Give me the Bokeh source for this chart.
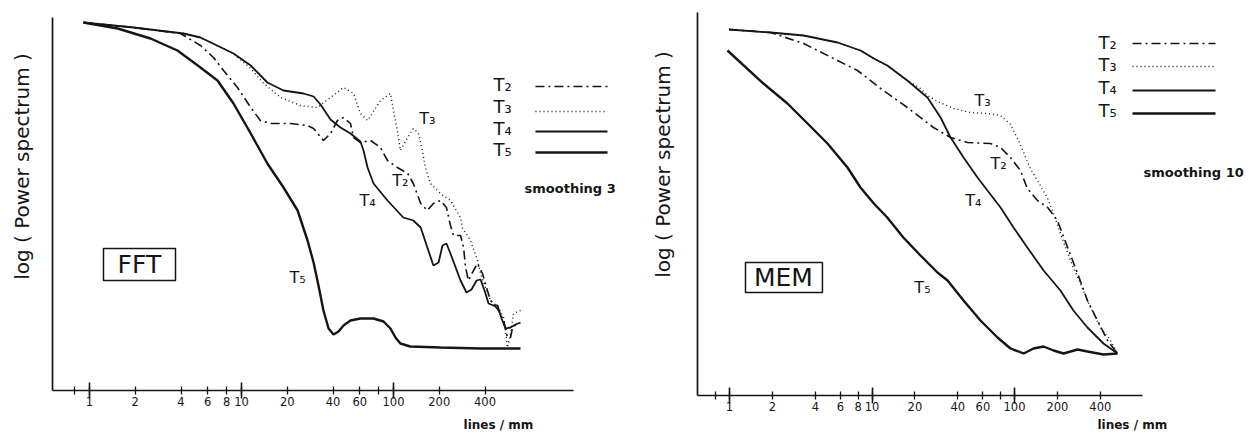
from bokeh.plotting import figure
from bokeh.models import (Range1d, FixedTicker, LogAxis, LinearAxis, Label, Arrow, BoxAnnotation,
                          PrintfTickFormatter)
from bokeh.layouts import row
from bokeh.embed import file_html
from bokeh.resources import INLINE

FONT = "DejaVu Sans"
INK = "#151515"

# ---------------- data (x: lines/mm, y: log power spectrum, arbitrary units) ----------------
# FFT panel, smoothing 3
fft_t2_f = [0.913, 1.95, 3.97, 5.37, 6.54, 7.62, 9.41, 11.5, 13.3, 15.5, 21.0, 27.2, 29.8, 34.6, 38.5, 42.8,
            46.9, 52.1, 54.6, 60.6, 70.6, 82.1, 91.3, 106, 124, 135, 151, 167, 183, 204, 223, 237, 248, 276,
            289, 298, 311, 336, 357, 385, 415, 435, 491, 530, 562, 589, 607, 655]
fft_t2_y = [36.8, 36.3, 35.7, 34.5, 33.3, 32.0, 30.3, 28.3, 27.0, 26.7, 26.7, 26.5, 26.2, 25.0, 25.7, 27.0,
            27.3, 26.7, 25.3, 24.8, 25.0, 24.3, 23.0, 22.3, 21.7, 20.7, 18.7, 18.0, 18.7, 19.0, 18.3, 16.5,
            15.5, 15.5, 14.3, 12.3, 11.0, 12.0, 12.7, 11.7, 10.0, 9.0, 8.0, 7.0, 5.3, 5.3, 6.3, 6.7]
fft_t3_f = [0.913, 1.95, 4.15, 5.37, 8.86, 11.5, 14.0, 18.1, 24.4, 31.6, 38.5, 46.9, 54.6, 60.6, 67.5, 82.1,
            95.5, 100, 106, 111, 124, 135, 146, 155, 162, 175, 204, 237, 276, 285, 321, 357, 374, 403, 435,
            491, 530, 546, 562, 589, 616, 685]
fft_t3_y = [36.8, 36.3, 35.7, 35.3, 33.7, 32.2, 30.7, 29.3, 28.5, 28.3, 29.3, 30.3, 29.7, 27.7, 27.0, 29.0,
            29.7, 28.0, 26.0, 24.0, 25.3, 26.2, 25.7, 24.0, 22.3, 20.7, 19.7, 19.0, 17.3, 16.2, 15.0, 13.0,
            11.7, 10.3, 9.0, 8.3, 7.3, 6.0, 4.3, 5.7, 7.7, 8.0]
fft_t4_f = [0.913, 1.95, 4.15, 5.37, 8.86, 11.5, 14.8, 18.9, 25.6, 29.8, 33.1, 38.5, 44.8, 52.1, 60.6, 63.5,
            67.5, 73.9, 91.3, 116, 135, 151, 167, 183, 198, 210, 223, 237, 276, 302, 326, 352, 374, 397, 422,
            455, 483, 514, 546, 589, 635, 685]
fft_t4_y = [36.8, 36.3, 35.7, 35.3, 33.7, 32.5, 30.8, 30.0, 29.7, 29.4, 28.6, 27.1, 26.3, 25.7, 24.9, 24.0,
            22.3, 20.7, 19.0, 17.3, 17.0, 16.3, 14.3, 12.5, 12.8, 14.5, 14.7, 13.7, 11.0, 9.8, 10.1, 11.0,
            11.1, 10.0, 8.7, 8.5, 8.5, 7.2, 6.2, 6.3, 6.6, 6.8]
fft_t5_f = [0.913, 1.53, 2.52, 3.79, 5.37, 6.95, 8.86, 11.5, 14.8, 18.9, 23.4, 27.2, 29.8, 32.1, 34.6, 37.4,
            40.3, 43.5, 46.9, 52.1, 60.6, 73.9, 86.0, 95.5, 103, 111, 129, 204, 374, 685]
fft_t5_y = [36.8, 36.2, 35.2, 34.0, 32.3, 31.0, 28.7, 25.7, 22.7, 20.3, 18.0, 15.0, 12.8, 10.5, 8.0, 6.2,
            5.6, 5.9, 6.5, 7.0, 7.2, 7.2, 6.9, 6.2, 5.3, 4.7, 4.4, 4.3, 4.2, 4.2]

# MEM panel, smoothing 10
mem_t2_f = [0.993, 1.94, 3.31, 5.73, 7.91, 11.5, 17.7, 27.0, 35.6, 46.8, 67.9, 79.8, 93.7, 110, 123, 145,
            171, 200, 236, 277, 325, 382, 450, 528]
mem_t2_y = [36.6, 36.3, 35.2, 33.5, 32.5, 30.7, 28.8, 26.8, 25.8, 25.3, 25.2, 24.8, 23.8, 22.5, 20.7, 19.5,
            18.8, 17.5, 14.8, 12.2, 9.5, 7.5, 5.5, 4.2]
mem_t3_f = [0.993, 1.94, 3.31, 5.73, 8.30, 10.3, 12.8, 17.7, 21.9, 24.5, 28.8, 37.3, 49.1, 64.6, 79.8, 93.7,
            105, 116, 129, 145, 171, 188, 210, 247, 290, 341, 401, 472, 528]
mem_t3_y = [36.6, 36.3, 36.0, 35.3, 34.5, 33.7, 33.0, 31.5, 30.7, 30.0, 29.4, 28.7, 28.3, 28.2, 28.0, 27.1,
            25.7, 24.3, 22.7, 21.5, 19.7, 18.2, 16.2, 13.5, 11.2, 8.8, 6.8, 5.5, 4.2]
mem_t4_f = [0.993, 1.94, 3.31, 5.73, 8.30, 10.3, 12.8, 17.7, 24.5, 30.3, 35.6, 43.9, 55.0, 64.6, 79.8, 98.4,
            123, 160, 210, 259, 325, 421, 528]
mem_t4_y = [36.6, 36.3, 36.0, 35.3, 34.5, 33.7, 33.0, 31.5, 29.8, 27.8, 25.8, 23.8, 21.8, 20.5, 18.8, 16.8,
            14.8, 12.5, 10.5, 8.5, 6.8, 5.2, 4.2]
mem_t5_f = [0.968, 1.73, 2.55, 3.53, 4.87, 6.73, 8.30, 10.3, 12.8, 16.6, 21.9, 28.8, 33.9, 43.9, 57.7, 76.0,
            93.7, 116, 136, 160, 188, 221, 277, 325, 421, 528]
mem_t5_y = [34.5, 31.2, 29.2, 27.2, 25.2, 22.8, 20.8, 19.2, 17.8, 15.8, 14.0, 12.3, 11.5, 9.5, 7.5, 5.8,
            4.7, 4.2, 4.7, 4.9, 4.5, 4.2, 4.6, 4.4, 4.1, 4.2]

series_names = ["T\u2082", "T\u2083", "T\u2084", "T\u2085"]
tick_labeled = [1, 2, 4, 6, 8, 10, 20, 40, 60, 100, 200, 400]
tick_minor = [0.8, 80]
tick_long = [1, 10, 100]
x_title = "lines / mm"
y_title = "log ( Power spectrum )"

STYLES = {
    "T\u2082": dict(line_dash="9 4 2 4", line_width=1.6),
    "T\u2083": dict(line_dash="1 3", line_width=1.4),
    "T\u2084": dict(line_dash="solid", line_width=1.8),
    "T\u2085": dict(line_dash="solid", line_width=2.4),
}


def build(cfg):
    p = figure(x_axis_type="log",
               x_range=Range1d(cfg["x0"], cfg["x1"]), y_range=Range1d(cfg["y0"], cfg["y1"]),
               frame_width=cfg["fw"], frame_height=435,
               min_border_left=0, min_border_right=0, min_border_top=0, min_border_bottom=0,
               x_axis_location=None, y_axis_location=None,
               toolbar_location=None, output_backend="svg")
    p.outline_line_color = None
    p.grid.visible = False
    p.background_fill_color = "white"
    p.border_fill_color = "white"

    # y axis: bare line at the left end of the data area
    ya = LinearAxis(fixed_location=cfg["ax_x"], bounds=(0, cfg["ytop"]),
                    major_tick_in=0, major_tick_out=0, minor_tick_in=0, minor_tick_out=0,
                    major_label_text_alpha=0, major_label_text_font_size="8px",
                    axis_line_width=1.7, axis_line_color=INK)
    p.add_layout(ya, "left")

    # x axis (log, lines/mm)
    xa = LogAxis(fixed_location=0, bounds=(cfg["ax_x"], cfg["xaxis_end"]),
                 ticker=FixedTicker(ticks=tick_labeled, minor_ticks=tick_minor),
                 formatter=PrintfTickFormatter(format="%d"),
                 major_tick_in=4, major_tick_out=4, minor_tick_in=4, minor_tick_out=4,
                 major_tick_line_width=1.3, minor_tick_line_width=1.3,
                 major_tick_line_color=INK, minor_tick_line_color=INK,
                 axis_line_width=1.4, axis_line_color=INK,
                 major_label_standoff=2, major_label_text_font=FONT,
                 major_label_text_font_size="11.5px", major_label_text_color=INK)
    p.add_layout(xa, "below")

    # longer ticks at the decades
    la = LogAxis(fixed_location=0, ticker=FixedTicker(ticks=tick_long, minor_ticks=[]),
                 axis_line_color=None, major_tick_in=8, major_tick_out=8,
                 major_tick_line_width=1.6, major_tick_line_color=INK,
                 minor_tick_in=0, minor_tick_out=0,
                 major_label_text_alpha=0, major_label_text_font_size="8px")
    p.add_layout(la, "below")

    for name, (xs, ys) in zip(series_names, cfg["curves"]):
        p.line(xs, ys, line_color=INK, **STYLES[name])

    # curve labels
    for name, (lx, ly) in cfg["curve_labels"].items():
        p.add_layout(Label(x=lx, y=ly, text=name, text_font=FONT, text_font_size="16px",
                           text_color=INK, text_align="center", text_baseline="middle"))

    # legend (label to the left, line sample to the right)
    lgx, lx0, lx1, rows_t, rows_l = cfg["legend"]
    for name, ty, ly in zip(series_names, rows_t, rows_l):
        p.add_layout(Label(x=lgx, y=ty, text=name, text_font=FONT, text_font_size="18px",
                           text_color=INK, text_align="left", text_baseline="middle"))
        p.add_layout(Arrow(end=None, x_start=lx0, y_start=ly, x_end=lx1, y_end=ly,
                           line_color=INK, **STYLES[name]))

    sx, sy, stext = cfg["smooth"]
    p.add_layout(Label(x=sx, y=sy, text=stext, text_font=FONT, text_font_size="13px",
                       text_font_style="bold", text_color=INK, text_align="left", text_baseline="middle"))

    (bl, br, bb, bt), (tx, ty), btext = cfg["box"]
    p.add_layout(BoxAnnotation(left=bl, right=br, bottom=bb, top=bt, fill_alpha=0,
                               line_color=INK, line_width=1.5, line_alpha=1))
    p.add_layout(Label(x=tx, y=ty, text=btext, text_font=FONT, text_font_size="25px",
                       text_color=INK, text_align="center", text_baseline="middle"))

    yx, yy = cfg["ylabel"]
    p.add_layout(Label(x=yx, y=yy, text=y_title, angle=90, angle_units="deg", text_font=FONT,
                       text_font_size="20px", text_color=INK, text_align="center", text_baseline="middle"))
    xx, xy = cfg["xlabel"]
    p.add_layout(Label(x=xx, y=xy, text=x_title, text_font=FONT, text_font_size="12px",
                       text_font_style="bold", text_color=INK, text_align="left", text_baseline="middle"))
    return p


fft_cfg = dict(
    x0=0.2597, x1=4217, y0=-4.5, y1=39.0, fw=640, ax_x=0.571, xaxis_end=1528, ytop=37.3,
    curves=[(fft_t2_f, fft_t2_y), (fft_t3_f, fft_t3_y), (fft_t4_f, fft_t4_y), (fft_t5_f, fft_t5_y)],
    curve_labels={"T\u2083": (167, 27.2), "T\u2082": (111, 21.0), "T\u2084": (67.5, 19.0), "T\u2085": (23.4, 11.3)},
    legend=(455, 859, 2558, [30.6, 28.4, 26.2, 24.1], [30.4, 27.9, 25.9, 23.8]),
    smooth=(728, 20.2, "smoothing 3"),
    box=((1.236, 3.68, 11.0, 14.2), (2.13, 12.6), "FFT"),
    ylabel=(0.362, 22.4),
    xlabel=(289, -3.4),
)

mem_cfg = dict(
    x0=0.2374, x1=4457, y0=-4.0, y1=39.5, fw=609, ax_x=0.596, xaxis_end=791, ytop=38.3,
    curves=[(mem_t2_f, mem_t2_y), (mem_t3_f, mem_t3_y), (mem_t4_f, mem_t4_y), (mem_t5_f, mem_t5_y)],
    curve_labels={"T\u2083": (59.6, 29.5), "T\u2082": (77.2, 23.2), "T\u2084": (51.5, 19.5), "T\u2085": (22.6, 10.8)},
    legend=(388, 673, 2575, [35.3, 33.1, 30.8, 28.5], [35.2, 32.9, 30.5, 28.2]),
    smooth=(804, 22.3, "smoothing 10"),
    box=((1.295, 4.49, 10.3, 13.3), (2.39, 11.8), "MEM"),
    ylabel=(0.344, 23.1),
    xlabel=(382, -2.9),
)

p1 = build(fft_cfg)
p2 = build(mem_cfg)
layout = row(p1, p2)

open("out.html", "w").write(file_html(layout, INLINE))
